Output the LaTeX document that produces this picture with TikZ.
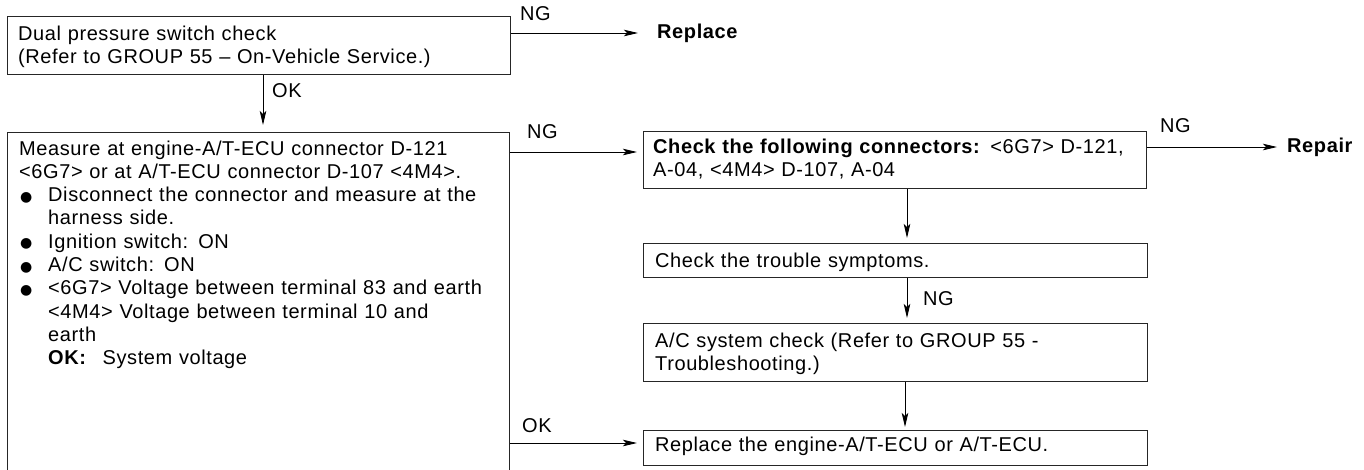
\documentclass[tikz,border=0pt]{standalone}
\usepackage{fontspec}
\setmainfont{Liberation Sans}[WordSpace=2.3,LetterSpace=3]
\newfontfamily\dejavu{DejaVu Sans}
\usetikzlibrary{arrows.meta}
\newcommand\mytextfont{\fontsize{20}{23.3}\selectfont}
\newcommand\bul{\makebox[29pt][l]{\hspace{1pt}\raisebox{0.5pt}{\dejavu\fontsize{14}{14}\selectfont ●}}}
\newcommand\myind{\makebox[29pt]{}}
\begin{document}
\begin{tikzpicture}[x=1pt,y=-1pt,
  box/.style={draw=black!85, line width=1pt, rectangle, inner sep=0pt, anchor=north west},
  txt/.style={inner sep=0pt, anchor=base west, align=left, text width=#1, font=\mytextfont},
  lbl/.style={inner sep=0pt, anchor=base west, font=\mytextfont},
  blbl/.style={inner sep=0pt, anchor=base west, font=\mytextfont\bfseries},
  arr/.style={draw=black, line width=0.9pt, -{Stealth[length=14pt,width=6.5pt,inset=3pt]}},
]
\useasboundingbox (0,0) rectangle (1364,469);

% boxes
\node[box, minimum width=503pt, minimum height=58pt] (b1) at (7,16) {};
\node[box, minimum width=502pt, minimum height=360pt] (b2) at (7,132) {};
\node[box, minimum width=503pt, minimum height=57pt] (b3) at (643,131) {};
\node[box, minimum width=504pt, minimum height=34pt] (b4) at (643,243) {};
\node[box, minimum width=504pt, minimum height=58pt] (b5) at (643,323) {};
\node[box, minimum width=504pt, minimum height=35pt] (b6) at (643,430) {};

% texts
\node[txt=490pt] (t1) at (18,40) {Dual pressure switch check\\(Refer to GROUP 55 \textendash{} On-Vehicle Service.)};
\node[txt=489pt] (t2) at (19,155) {Measure at engine-A/T-ECU connector D-121\\
<6G7> or at A/T-ECU connector D-107 <4M4>.\\
\bul Disconnect the connector and measure at the\\
\myind harness side.\\
\bul Ignition switch: ON\\
\bul A/C switch: ON\\
\bul <6G7> Voltage between terminal 83 and earth\\
\myind <4M4> Voltage between terminal 10 and\\
\myind earth\\
\myind \textbf{OK:}\hspace{16pt}System voltage};
\node[txt=495pt] (t3) at (653,153) {\textbf{Check the following connectors:} <6G7> D-121,\\A-04, <4M4> D-107, A-04};
\node[txt=495pt] (t4) at (655,267) {Check the trouble symptoms.};
\node[txt=495pt] (t5) at (655,347) {A/C system check (Refer to GROUP 55 -\\Troubleshooting.)};
\node[txt=495pt] (t6) at (655,451) {Replace the engine-A/T-ECU or A/T-ECU.};

% end nodes
\node[blbl] (rep) at (657,38) {Replace};
\node[blbl] (rpr) at (1287,152) {Repair};

% labels
\node[lbl] (ng1) at (520,20) {NG};
\node[lbl] (ok1) at (272,97) {OK};
\node[lbl] (ng2) at (527,138) {NG};
\node[lbl] (ng3) at (1160,132) {NG};
\node[lbl] (ng4) at (923,305) {NG};
\node[lbl] (ok2) at (522,432) {OK};

% connectors
\draw[arr, shorten >=19pt] (b1.east |- 0,33) -- (rep.west |- 0,33);
\draw[arr, shorten >=7pt] (b1.south -| 263,0) -- (b2.north -| 263,0);
\draw[arr, shorten >=6pt] (b2.east |- 0,152) -- (b3.west |- 0,152);
\draw[arr, shorten >=10pt] (b3.east |- 0,147) -- (rpr.west |- 0,147);
\draw[arr, shorten >=5pt] (b3.south -| 907,0) -- (b4.north -| 907,0);
\draw[arr, shorten >=5pt] (b4.south -| 907,0) -- (b5.north -| 907,0);
\draw[arr, shorten >=3pt] (b5.south -| 905,0) -- (b6.north -| 905,0);
\draw[arr, shorten >=6pt] (b2.east |- 0,443) -- (b6.west |- 0,443);
\end{tikzpicture}
\end{document}
